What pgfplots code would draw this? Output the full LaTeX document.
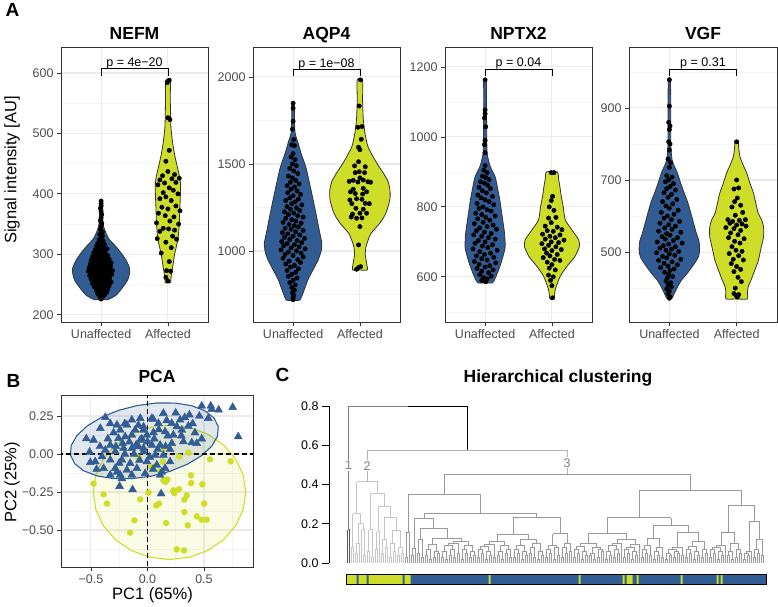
\documentclass[border=0pt]{standalone}
\usepackage{fontspec}
\setmainfont{Liberation Sans}
\usepackage{pgfplots}
\usepackage{pgfplotstable}
\pgfplotsset{compat=1.18}

\definecolor{ublue}{RGB}{50,92,148}
\definecolor{ayel}{RGB}{206,222,40}
\definecolor{gridc}{HTML}{EBEBEB}
\definecolor{gridm}{HTML}{F4F4F4}
\definecolor{frame}{HTML}{333333}
\definecolor{ticklab}{HTML}{4D4D4D}
\definecolor{cl1}{HTML}{5A5A5A}
\definecolor{cl2}{HTML}{C6C6C6}
\definecolor{cl3}{HTML}{9A9A9A}

\tikzset{ptext/.style={font=\fontsize{12.5}{14}\selectfont, anchor=base}}
\pgfplotsset{
  gg/.style={
    scale only axis,
    axis line style={frame, line width=0.8pt},
    tick style={frame, line width=0.8pt},
    tick align=outside, tick pos=left,
    major tick length=4pt, minor tick length=0pt,
    tick label style={font=\fontsize{12.5}{14}\selectfont, text=ticklab},
    /pgf/number format/assume math mode=true,
    /pgf/number format/1000 sep={},
    major grid style={gridc, line width=1.1pt},
    minor grid style={gridm, line width=0.6pt},
    xmajorgrids, ymajorgrids, yminorgrids,
    title style={font=\fontsize{17.5}{20}\bfseries\selectfont, anchor=base, at={(0.5,1)}, inner sep=0pt},
  },
  violin/.style={gg, width=147pt, height=275pt, xmin=0.4, xmax=2.6,
    xtick={1,2}, xticklabels={Unaffected,Affected}, title style={yshift=1.7pt}},
  pts/.style={only marks, mark=*, mark size=2.2pt, black},
  vio/.style={fill=#1, draw=frame, line width=0.8pt, smooth, tension=0.4},
}

% dendrogram merges: left child (xl,hl), right child (xr,hr), merge height h
\pgfplotstableread{
xl hl xr hr h
0 0 1 0 0.17
}\dA
\pgfplotstableread{
xl hl xr hr h
2 0 3 0 0.08
4 0 5 0 0.05
4.5 0.05 6 0 0.10
8 0 9 0 0.04
7 0 8.5 0.04 0.17
5.25 0.10 7.75 0.17 0.20
2.5 0.08 6.5 0.20 0.251
10 0 11 0 0.06
12 0 13 0 0.03
10.5 0.06 12.5 0.03 0.17
14 0 15 0 0.07
14.5 0.07 16 0 0.16
17 0 18 0 0.05
19 0 20 0 0.08
17.5 0.05 19.5 0.08 0.12
21 0 22 0 0.03
23 0 24 0 0.06
21.5 0.03 23.5 0.06 0.10
25 0 26 0 0.04
27 0 28 0 0.05
25.5 0.04 27.5 0.05 0.08
22.5 0.10 26.5 0.08 0.168
18.5 0.12 24.5 0.168 0.233
15.25 0.16 21.5 0.233 0.287
11.5 0.17 18.375 0.287 0.357
4.5 0.251 14.9375 0.357 0.414
}\dB
\pgfplotstableread{
xl hl xr hr h
29 0 30 0 0.03
29.5 0.03 31 0 0.156
32 0 33 0 0.04
32.5 0.04 34 0 0.075
35 0 36 0 0.05
37 0 38 0 0.03
35.5 0.05 37.5 0.03 0.12
39 0 40 0 0.04
41 0 42 0 0.02
39.5 0.04 41.5 0.02 0.07
43 0 44 0 0.03
45 0 46 0 0.05
43.5 0.03 45.5 0.05 0.06
40.5 0.07 44.5 0.06 0.095
47 0 48 0 0.03
49 0 50 0 0.02
47.5 0.03 49.5 0.02 0.06
51 0 52 0 0.04
53 0 54 0 0.03
51.5 0.04 53.5 0.03 0.07
48.5 0.06 52.5 0.07 0.09
55 0 56 0 0.05
50.5 0.09 55.5 0.05 0.10
57 0 58 0 0.02
59 0 60 0 0.05
57.5 0.02 59.5 0.05 0.07
61 0 62 0 0.03
63 0 64 0 0.04
61.5 0.03 63.5 0.04 0.06
58.5 0.07 62.5 0.06 0.09
53 0.10 60.5 0.09 0.11
42.5 0.095 56.75 0.11 0.125
36.5 0.12 49.625 0.125 0.178
33.25 0.075 43.0625 0.178 0.228
65 0 66 0 0.03
67 0 68 0 0.05
65.5 0.03 67.5 0.05 0.07
69 0 70 0 0.02
71 0 72 0 0.04
69.5 0.02 71.5 0.04 0.06
66.5 0.07 70.5 0.06 0.085
73 0 74 0 0.03
68.5 0.085 73.5 0.03 0.095
75 0 76 0 0.04
77 0 78 0 0.02
75.5 0.04 77.5 0.02 0.06
79 0 80 0 0.05
81 0 82 0 0.03
79.5 0.05 81.5 0.03 0.07
76.5 0.06 80.5 0.07 0.09
71 0.095 78.5 0.09 0.11
83 0 84 0 0.03
85 0 86 0 0.05
83.5 0.03 85.5 0.05 0.07
87 0 88 0 0.02
89 0 90 0 0.04
87.5 0.02 89.5 0.04 0.06
84.5 0.07 88.5 0.06 0.09
91 0 92 0 0.05
93 0 94 0 0.03
91.5 0.05 93.5 0.03 0.08
95 0 96 0 0.02
97 0 98 0 0.04
95.5 0.02 97.5 0.04 0.06
92.5 0.08 96.5 0.06 0.10
86.5 0.09 94.5 0.10 0.12
74.75 0.11 90.5 0.12 0.148
99 0 100 0 0.03
101 0 102 0 0.05
99.5 0.03 101.5 0.05 0.07
103 0 104 0 0.02
105 0 106 0 0.04
103.5 0.02 105.5 0.04 0.08
100.5 0.07 104.5 0.08 0.09
107 0 108 0 0.03
109 0 110 0 0.05
107.5 0.03 109.5 0.05 0.08
111 0 112 0 0.06
108.5 0.08 111.5 0.06 0.10
102.5 0.09 110 0.10 0.15
82.625 0.148 106.25 0.15 0.233
38.15625 0.228 94.4375 0.233 0.253
30.25 0.156 66.296875 0.253 0.350
113 0 114 0 0.03
115 0 116 0 0.05
113.5 0.03 115.5 0.05 0.07
117 0 118 0 0.02
119 0 120 0 0.04
117.5 0.02 119.5 0.04 0.06
114.5 0.07 118.5 0.06 0.085
121 0 122 0 0.04
123 0 124 0 0.02
121.5 0.04 123.5 0.02 0.05
125 0 126 0 0.03
127 0 128 0 0.06
125.5 0.03 127.5 0.06 0.07
122.5 0.05 126.5 0.07 0.08
116.5 0.085 124.5 0.08 0.10
129 0 130 0 0.02
131 0 132 0 0.04
129.5 0.02 131.5 0.04 0.06
133 0 134 0 0.03
135 0 136 0 0.05
133.5 0.03 135.5 0.05 0.07
130.5 0.06 134.5 0.07 0.09
132.5 0.09 137 0 0.10
138 0 139 0 0.03
140 0 141 0 0.05
138.5 0.03 140.5 0.05 0.07
142 0 143 0 0.02
144 0 145 0 0.04
142.5 0.02 144.5 0.04 0.06
139.5 0.07 143.5 0.06 0.08
141.5 0.08 146 0 0.095
134.75 0.10 143.75 0.095 0.12
120.5 0.10 139.25 0.12 0.151
147 0 148 0 0.03
149 0 150 0 0.05
147.5 0.03 149.5 0.05 0.07
151 0 152 0 0.04
148.5 0.07 151.5 0.04 0.09
153 0 154 0 0.02
155 0 156 0 0.04
153.5 0.02 155.5 0.04 0.06
157 0 158 0 0.03
154.5 0.06 157.5 0.03 0.08
150 0.09 156 0.08 0.125
159 0 160 0 0.02
161 0 162 0 0.04
159.5 0.02 161.5 0.04 0.05
163 0 164 0 0.03
165 0 166 0 0.05
163.5 0.03 165.5 0.05 0.06
160.5 0.05 164.5 0.06 0.07
167 0 168 0 0.04
162.5 0.07 167.5 0.04 0.08
169 0 170 0 0.03
171 0 172 0 0.05
169.5 0.03 171.5 0.05 0.07
173 0 174 0 0.02
175 0 176 0 0.04
173.5 0.02 175.5 0.04 0.06
170.5 0.07 174.5 0.06 0.085
177 0 178 0 0.03
179 0 180 0 0.05
177.5 0.03 179.5 0.05 0.07
172.5 0.085 178.5 0.07 0.11
165 0.08 175.5 0.11 0.156
153 0.125 170.25 0.156 0.192
129.875 0.151 161.625 0.192 0.231
181 0 182 0 0.03
183 0 184 0 0.05
181.5 0.03 183.5 0.05 0.07
185 0 186 0 0.02
187 0 188 0 0.04
185.5 0.02 187.5 0.04 0.06
182.5 0.07 186.5 0.06 0.08
184.5 0.08 189 0 0.09
190 0 191 0 0.04
192 0 193 0 0.02
190.5 0.04 192.5 0.02 0.06
194 0 195 0 0.03
196 0 197 0 0.05
194.5 0.03 196.5 0.05 0.07
191.5 0.06 195.5 0.07 0.10
186.75 0.09 193.5 0.10 0.156
198 0 199 0 0.02
200 0 201 0 0.04
198.5 0.02 200.5 0.04 0.05
199.5 0.05 202 0 0.06
203 0 204 0 0.03
205 0 206 0 0.05
203.5 0.03 205.5 0.05 0.07
207 0 208 0 0.04
204.5 0.07 207.5 0.04 0.12
200.75 0.06 206 0.12 0.21
190.125 0.156 203.375 0.21 0.294
145.75 0.231 196.75 0.294 0.370
48.2734375 0.350 171.25 0.370 0.452
}\dC

\newcommand{\dendro}[2]{%
  \addplot[#2, line width=0.7pt, quiver={u=0, v=\thisrow{h}-\thisrow{hl}}] table[x=xl, y=hl] {#1};
  \addplot[#2, line width=0.7pt, quiver={u=0, v=\thisrow{h}-\thisrow{hr}}] table[x=xr, y=hr] {#1};
  \addplot[#2, line width=0.7pt, quiver={u=\thisrow{xr}-\thisrow{xl}, v=0}] table[x=xl, y=h] {#1};
}

\begin{document}
\begin{tikzpicture}
\useasboundingbox (0,0) rectangle (778pt,606pt);

% ---------------- NEFM
\begin{axis}[violin, at={(61pt,284pt)}, ymin=188, ymax=643,
  ytick={200,300,400,500,600}, minor ytick={250,350,450,550}, title={NEFM}]
\addplot[vio=ublue] coordinates {(1,225)(1.10,225)(1.22,232)(1.30,242)(1.40,258)(1.43,275)(1.37,291)(1.28,305)(1.22,313)(1.12,325)(1.07,336)(1.04,345)(1.025,360)(1.02,389)(0.98,389)(0.975,360)(0.96,345)(0.93,336)(0.88,325)(0.78,313)(0.72,305)(0.63,291)(0.57,275)(0.60,258)(0.70,242)(0.78,232)(0.90,225)(1,225)};
\addplot[vio=ayel] coordinates {(2,253)(2.04,253)(2.05,265)(2.08,285)(2.10,300)(2.15,325)(2.17,350)(2.18,380)(2.19,410)(2.18,425)(2.14,445)(2.10,465)(2.07,485)(2.045,510)(2.04,530)(2.035,560)(2.035,588)(1.965,588)(1.965,560)(1.96,530)(1.955,510)(1.93,485)(1.90,465)(1.86,445)(1.82,425)(1.81,410)(1.82,380)(1.83,350)(1.85,325)(1.90,300)(1.92,285)(1.95,265)(1.96,253)(2,253)};
\addplot[pts] coordinates {
(1.00,388)(1.00,384)(1.00,380)(0.99,376)(1.00,371)(1.01,366)(1.00,361)(0.99,356)(1.01,351)(1.00,346)(0.99,341)(1.02,337)(0.98,333)(1.02,330)(1.00,327)(0.97,324)(1.03,322)
(0.95,318)(1.00,318)(1.05,316)(0.93,313)(0.98,312)(1.04,311)(1.09,309)(0.91,307)(0.96,306)(1.01,305)(1.06,304)(0.89,302)(0.94,301)(0.99,300)(1.04,299)(1.10,298)(0.87,296)(0.92,296)(0.97,295)(1.02,294)(1.07,293)(1.12,292)(0.85,290)(0.90,290)(0.95,289)(1.00,288)(1.05,288)(1.10,287)(1.15,286)(0.84,284)(0.89,284)(0.94,283)(0.99,282)(1.04,282)(1.09,281)(1.14,280)(0.82,278)(0.87,278)(0.92,277)(0.97,276)(1.02,276)(1.07,275)(1.12,274)(1.17,273)(0.81,272)(0.86,271)(0.91,271)(0.96,270)(1.01,269)(1.06,269)(1.11,268)(1.16,267)(0.83,265)(0.88,265)(0.93,264)(0.98,263)(1.03,263)(1.08,262)(1.13,261)(0.85,259)(0.90,258)(0.95,258)(1.00,257)(1.05,256)(1.10,255)(1.15,254)(0.87,252)(0.92,251)(0.97,250)(1.02,250)(1.07,249)(1.12,248)(0.90,246)(0.95,245)(1.00,244)(1.05,243)(1.10,242)(0.93,240)(0.98,239)(1.03,238)(1.08,237)(0.95,235)(1.00,234)(1.05,233)(0.98,230)(1.02,229)(1.00,226)
(0.90,280)(1.10,270)(0.93,292)(1.07,284)(0.96,261)(1.04,266)(0.88,273)(1.12,279)(0.98,248)(1.02,253)(0.94,270)(1.06,278)(1.00,300)(1.00,310)(1.00,274)(0.92,255)(1.08,255)(0.97,286)(1.03,290)(0.95,302)(1.05,306)
};
\addplot[pts] coordinates {
(2.02,588)(1.99,584)(2.00,526)(2.03,523)(2.02,472)(1.97,454)(2.10,432)(1.92,430)(2.00,437)(2.06,425)(2.17,426)(1.88,423)(1.95,418)(2.12,419)(2.02,410)(1.85,415)(2.08,406)(1.93,402)(2.15,400)(1.97,395)(1.88,392)(2.05,389)(2.12,380)(1.91,378)(2.00,375)(2.18,372)(1.86,368)(1.96,364)(2.09,362)(2.03,355)(1.83,352)(2.16,350)(1.93,343)(2.01,342)(2.10,340)(1.88,338)(2.07,330)(1.84,326)(2.13,325)(1.97,320)(2.05,311)(1.90,302)(2.02,288)(1.98,273)(2.04,272)(1.97,262)(2.00,256)
};
\addplot[black, line width=0.8pt] coordinates {(1,595)(1,608)(2,608)(2,595)};
\node[ptext] at (axis cs:1.5,611) {p = 4e−20};
\end{axis}

% ---------------- AQP4
\begin{axis}[violin, at={(253pt,284pt)}, ymin=592, ymax=2172,
  ytick={1000,1500,2000}, minor ytick={750,1250,1750}, title={AQP4}]
\addplot[vio=ublue] coordinates {(1,718)(1.10,718)(1.15,760)(1.22,833)(1.31,900)(1.375,948)(1.42,1000)(1.43,1046)(1.40,1103)(1.35,1200)(1.30,1293)(1.24,1400)(1.19,1483)(1.12,1560)(1.075,1620)(1.03,1678)(1.02,1760)(1.02,1849)(0.98,1849)(0.98,1760)(0.97,1678)(0.925,1620)(0.88,1560)(0.81,1483)(0.76,1400)(0.70,1293)(0.65,1200)(0.60,1103)(0.57,1046)(0.58,1000)(0.625,948)(0.69,900)(0.78,833)(0.85,760)(0.90,718)(1,718)};
\addplot[vio=ayel] coordinates {(2,891)(2.11,891)(2.10,931)(2.08,980)(2.09,1023)(2.13,1070)(2.17,1103)(2.30,1161)(2.38,1210)(2.42,1253)(2.45,1300)(2.45,1350)(2.42,1400)(2.35,1448)(2.26,1500)(2.20,1540)(2.12,1600)(2.075,1678)(2.05,1760)(2.04,1868)(2.04,1983)(1.96,1983)(1.96,1868)(1.95,1760)(1.925,1678)(1.88,1600)(1.80,1540)(1.74,1500)(1.65,1448)(1.58,1400)(1.55,1350)(1.55,1300)(1.58,1253)(1.62,1210)(1.70,1161)(1.83,1103)(1.87,1070)(1.91,1023)(1.92,980)(1.90,931)(1.89,891)(2,891)};
\addplot[pts] coordinates {
(1.00,1849)(1.00,1820)(1.00,1745)(0.99,1700)(1.01,1640)(0.98,1610)(1.02,1605)(1.00,1560)(0.97,1540)(1.03,1525)(0.99,1500)(1.05,1490)(0.95,1475)(1.01,1460)(1.07,1445)(0.93,1430)(0.99,1420)(1.04,1405)(0.96,1395)(1.09,1385)(0.91,1375)(1.02,1368)(0.97,1355)(1.06,1345)(0.92,1335)(1.11,1325)(1.00,1318)(0.95,1305)(1.08,1298)(0.89,1290)(1.03,1282)(0.98,1272)(1.13,1265)(0.91,1255)(1.05,1248)(0.96,1240)(1.10,1232)(0.87,1225)(1.01,1218)(0.93,1210)(1.07,1202)(1.15,1195)(0.89,1188)(0.98,1180)(1.04,1172)(0.85,1165)(1.12,1160)(0.94,1152)(1.02,1145)(1.08,1138)(0.88,1130)(0.97,1125)(1.15,1118)(1.04,1110)(0.84,1105)(0.92,1098)(1.10,1092)(1.00,1085)(0.87,1078)(1.17,1072)(0.95,1066)(1.06,1060)(0.83,1054)(1.13,1048)(0.91,1042)(1.02,1036)(0.86,1030)(1.09,1024)(0.97,1018)(1.18,1012)(0.82,1006)(1.05,1000)(0.93,994)(1.12,988)(0.88,980)(1.00,974)(1.15,966)(0.85,958)(1.07,950)(0.94,942)(1.11,934)(0.89,925)(1.02,917)(0.96,908)(1.08,898)(0.91,888)(1.04,878)(0.98,866)(0.93,855)(1.06,845)(1.00,832)(0.95,818)(1.03,805)(0.98,790)(1.02,775)(0.99,760)(1.01,745)(1.00,730)(1.00,720)
};
\addplot[pts] coordinates {
(2.01,1983)(1.99,1833)(1.97,1711)(2.03,1715)(2.02,1642)(1.98,1596)(2.00,1582)(1.98,1513)(1.92,1489)(2.08,1484)(1.99,1456)(1.84,1400)(1.90,1406)(1.97,1396)(2.05,1408)(2.12,1398)(2.16,1395)(1.90,1355)(2.05,1360)(1.85,1293)(1.95,1300)(2.03,1297)(2.08,1274)(1.88,1272)(2.14,1272)(1.94,1245)(2.05,1240)(2.00,1217)(1.89,1212)(2.10,1217)(1.95,1188)(2.03,1190)(1.87,1195)(2.00,1140)(1.98,1035)(1.98,905)(2.01,910)(1.95,895)(2.04,1327)(1.93,1330)(2.10,1340)(1.86,1340)(2.07,1450)(2.00,1420)(1.93,1450)
};
\addplot[black, line width=0.8pt] coordinates {(1,2006)(1,2046)(2,2046)(2,2006)};
\node[ptext] at (axis cs:1.5,2057) {p = 1e−08};
\end{axis}

% ---------------- NPTX2
\begin{axis}[violin, at={(445pt,284pt)}, ymin=471, ymax=1257,
  ytick={600,800,1000,1200}, minor ytick={500,700,900,1100}, title={NPTX2}]
\addplot[vio=ublue] coordinates {(1,583)(1.11,583)(1.16,600)(1.22,629)(1.27,660)(1.30,686)(1.29,726)(1.25,780)(1.22,820)(1.18,860)(1.15,886)(1.09,910)(1.06,926)(1.03,954)(1.025,1000)(1.02,1100)(1.02,1163)(0.98,1163)(0.98,1100)(0.975,1000)(0.97,954)(0.94,926)(0.91,910)(0.85,886)(0.82,860)(0.78,820)(0.75,780)(0.71,726)(0.70,686)(0.73,660)(0.78,629)(0.84,600)(0.89,583)(1,583)};
\addplot[vio=ayel] coordinates {(2,537)(2.03,537)(2.05,563)(2.12,600)(2.22,629)(2.34,657)(2.41,686)(2.40,706)(2.30,734)(2.20,763)(2.17,800)(2.14,830)(2.12,857)(2.10,880)(2.08,900)(1.92,900)(1.90,880)(1.88,857)(1.86,830)(1.83,800)(1.80,763)(1.70,734)(1.60,706)(1.59,686)(1.66,657)(1.78,629)(1.88,600)(1.95,563)(1.97,537)(2,537)};
\addplot[pts] coordinates {
(1.00,1163)(1.00,1077)(1.00,1066)(0.99,1054)(1.01,1029)(1.00,990)(0.99,978)(1.00,955)(1.00,918)(0.98,905)(1.03,898)(0.96,888)(1.01,884)(1.06,878)(0.93,872)(0.99,868)(1.04,862)(0.91,856)(1.08,852)(0.96,846)(1.02,840)(0.89,834)(1.11,830)(0.94,826)(1.00,820)(1.06,815)(0.88,810)(1.13,806)(0.97,800)(0.91,796)(1.03,792)(1.09,788)(0.86,782)(0.95,778)(1.15,774)(1.01,770)(0.89,766)(1.07,762)(0.97,756)(0.84,752)(1.12,748)(1.03,744)(0.92,740)(1.17,736)(0.87,732)(0.99,728)(1.09,724)(0.83,720)(0.95,716)(1.05,712)(1.15,708)(0.90,704)(1.00,700)(0.85,696)(1.11,692)(0.96,688)(1.04,684)(0.82,680)(1.18,676)(0.92,672)(1.08,668)(0.99,664)(0.87,660)(1.13,656)(0.95,652)(1.03,648)(0.84,644)(1.16,640)(0.91,636)(1.07,632)(1.00,628)(0.88,624)(1.12,620)(0.95,616)(1.05,612)(0.92,606)(1.09,602)(0.98,598)(1.03,594)(0.95,590)(1.01,586)
};
\addplot[pts] coordinates {
(1.99,898)(2.03,898)(2.01,830)(1.99,818)(1.96,800)(2.03,790)(1.95,768)(2.06,770)(1.99,755)(1.90,745)(2.08,742)(2.15,735)(1.93,732)(2.02,730)(1.86,722)(2.12,720)(1.97,716)(2.05,712)(1.90,708)(2.18,705)(1.99,700)(2.10,698)(1.85,695)(1.95,690)(2.06,686)(1.89,680)(2.14,678)(2.00,675)(1.92,668)(2.08,664)(1.97,660)(1.87,655)(2.04,650)(2.12,647)(1.93,642)(2.00,635)(1.96,625)(2.05,620)(1.95,605)(2.02,600)(1.98,590)(2.00,575)(2.01,540)
};
\addplot[black, line width=0.8pt] coordinates {(1,1174)(1,1194)(2,1194)(2,1174)};
\node[ptext] at (axis cs:1.5,1200) {p = 0.04};
\end{axis}

% ---------------- VGF
\begin{axis}[violin, at={(629pt,284pt)}, width=148pt, ymin=306, ymax=1069,
  ytick={500,700,900}, minor ytick={400,600,800,1000}, title={VGF}]
\addplot[vio=ublue] coordinates {(1,372)(1.04,372)(1.075,386)(1.12,403)(1.18,422)(1.27,442)(1.36,465)(1.43,486)(1.45,505)(1.44,530)(1.40,553)(1.36,580)(1.32,608)(1.27,640)(1.22,664)(1.17,690)(1.12,719)(1.07,740)(1.04,756)(1.02,800)(1.02,900)(1.015,978)(0.985,978)(0.98,900)(0.98,800)(0.96,756)(0.93,740)(0.88,719)(0.83,690)(0.78,664)(0.73,640)(0.68,608)(0.64,580)(0.60,553)(0.56,530)(0.55,505)(0.57,486)(0.64,465)(0.73,442)(0.82,422)(0.88,403)(0.925,386)(0.96,372)(1,372)};
\addplot[vio=ayel] coordinates {(2,370)(2.16,370)(2.16,385)(2.17,403)(2.22,425)(2.27,450)(2.32,475)(2.35,500)(2.38,525)(2.40,542)(2.40,570)(2.37,590)(2.32,608)(2.28,640)(2.25,664)(2.20,690)(2.15,719)(2.10,740)(2.05,764)(2.03,790)(2.025,808)(1.975,808)(1.97,790)(1.95,764)(1.90,740)(1.85,719)(1.80,690)(1.75,664)(1.72,640)(1.68,608)(1.63,590)(1.60,570)(1.60,542)(1.62,525)(1.65,500)(1.68,475)(1.73,450)(1.78,425)(1.83,403)(1.84,385)(1.84,370)(2,370)};
\addplot[pts] coordinates {
(1.00,978)(1.00,905)(0.99,860)(1.01,850)(1.00,840)(0.99,806)(1.01,800)(1.00,783)(0.98,758)(1.02,748)(1.00,735)(0.96,712)(1.04,708)(0.99,700)(0.94,695)(1.06,690)(1.01,682)(0.96,676)(1.09,672)(0.92,665)(1.03,660)(0.98,652)(1.11,646)(0.90,640)(1.05,634)(0.95,628)(1.00,622)(1.13,616)(0.88,610)(1.07,605)(0.97,600)(0.92,594)(1.03,590)(1.15,585)(0.86,580)(0.99,576)(1.09,572)(0.93,567)(1.04,563)(0.84,558)(1.17,555)(0.96,551)(1.01,547)(0.89,543)(1.12,540)(0.94,536)(1.06,532)(0.82,528)(1.19,525)(0.99,522)(0.91,518)(1.09,515)(0.86,511)(1.03,508)(0.95,505)(1.14,502)(0.81,498)(1.00,495)(1.08,491)(0.90,488)(0.96,484)(1.17,480)(0.84,477)(1.04,473)(0.92,469)(1.12,465)(0.98,461)(0.87,457)(1.07,453)(1.01,449)(0.93,444)(0.99,438)(1.05,432)(0.97,428)(0.95,420)(1.02,415)(0.98,410)(1.03,404)(0.96,398)(1.00,392)(0.98,385)(1.01,376)(1.00,372)
};
\addplot[pts] coordinates {
(2.00,806)(2.00,700)(1.96,675)(2.03,678)(2.01,650)(1.97,640)(2.06,630)(1.93,625)(2.09,610)(1.98,602)(1.87,590)(1.94,585)(2.04,588)(2.13,590)(1.90,580)(2.00,575)(2.08,578)(1.84,568)(2.14,572)(1.96,565)(2.06,560)(1.91,553)(2.02,548)(1.88,540)(2.11,537)(1.97,530)(2.05,525)(1.93,515)(1.99,505)(2.08,502)(1.89,496)(2.03,490)(1.95,480)(2.10,478)(1.92,468)(2.00,460)(2.06,452)(1.96,446)(2.02,430)(2.07,418)(1.98,400)(1.96,385)(1.99,380)(2.03,382)(2.01,375)
};
\addplot[black, line width=0.8pt] coordinates {(1,989)(1,1008)(2,1008)(2,989)};
\node[ptext] at (axis cs:1.5,1014) {p = 0.31};
\end{axis}

% ---------------- PCA
\begin{axis}[gg, at={(61pt,39pt)}, width=192pt, height=172pt,
  xmin=-0.765, xmax=0.934, ymin=-0.743, ymax=0.388,
  xtick={-0.5,0,0.5}, xticklabels={−0.5,0.0,0.5},
  ytick={-0.5,-0.25,0,0.25}, yticklabels={−0.50,−0.25,0.00,0.25},
  minor xtick={-0.75,-0.25,0.25,0.75}, minor ytick={-0.625,-0.375,-0.125,0.125,0.375},
  xminorgrids, title={PCA}, title style={yshift=6.7pt}]
\addplot[only marks, mark=*, mark size=3pt, ayel] coordinates {
(-0.477,-0.195)(-0.388,-0.265)(-0.358,-0.326)(-0.153,-0.517)(-0.115,-0.436)(-0.064,-0.298)(0.009,-0.254)(0.077,-0.338)(0.103,-0.326)(0.165,-0.454)(0.159,-0.184)(0.177,-0.168)(0.229,-0.239)(0.238,-0.257)(0.280,-0.232)(0.327,-0.300)(0.348,-0.272)(0.327,-0.382)(0.357,-0.469)(0.259,-0.627)(0.324,-0.634)(0.386,-0.140)(0.386,-0.191)(0.485,-0.199)(0.503,-0.326)(0.436,-0.410)(0.480,-0.432)(0.524,-0.432)(0.141,0.038)(0.282,-0.017)(0.362,0.009)(0.553,-0.035)(0.736,-0.048)(0.136,-0.050)(0.033,-0.083)(0.112,-0.112)(-0.079,-0.022)(0.141,-0.173)
};
\addplot[only marks, mark=triangle*, mark size=4.6pt, ublue] coordinates {
(-0.373,0.241)(-0.417,0.169)(-0.270,0.191)(-0.241,0.158)(-0.182,0.191)(-0.138,0.224)(-0.064,0.235)(-0.109,0.158)(-0.035,0.158)(-0.256,0.103)(-0.197,0.114)(-0.138,0.125)(-0.064,0.092)(-0.477,0.092)(-0.541,0.101)(-0.512,0.013)(-0.506,-0.055)(-0.329,0.059)(-0.373,0.026)(-0.402,-0.017)(-0.285,0.016)(-0.212,0.038)(-0.138,0.038)(-0.079,0.049)(-0.035,0.016)(-0.462,-0.050)(-0.329,-0.039)(-0.226,-0.039)(-0.153,-0.061)(-0.388,-0.094)(-0.285,-0.094)(-0.182,-0.105)(-0.094,-0.094)(-0.329,-0.138)(-0.241,-0.138)(-0.138,-0.138)(-0.020,-0.127)(0.480,0.316)(0.560,0.316)(0.568,0.294)(0.754,0.307)(0.803,0.114)(0.371,0.257)(0.289,0.224)(0.459,0.250)(0.538,0.235)(0.141,0.268)(0.039,0.235)(0.097,0.202)(0.215,0.202)(0.304,0.158)(0.362,0.184)(-0.035,0.180)(-0.005,0.125)(0.053,0.141)(0.156,0.147)(0.229,0.125)(0.215,0.070)(0.318,0.082)(0.392,0.075)(0.436,0.070)(0.112,0.059)(0.039,0.059)(-0.035,0.038)(0.068,-0.007)(0.141,-0.007)(-0.005,-0.050)(0.083,-0.072)(0.156,-0.094)(0.112,-0.138)(0.200,-0.050)(-0.270,-0.118)(-0.226,-0.162)(-0.247,-0.212)(-0.132,-0.234)(0.121,-0.261)(0.127,-0.118)
(-0.30,0.14)(-0.22,0.07)(-0.16,0.08)(-0.10,0.06)(-0.05,0.10)(0.00,0.08)(0.06,0.10)(0.10,0.16)(0.18,0.12)(0.26,0.18)(-0.42,0.05)(-0.35,0.10)(-0.28,0.05)(-0.20,0.00)(-0.12,0.00)(-0.07,-0.04)(0.02,-0.02)(0.09,0.03)(0.20,0.03)(0.30,0.12)(0.42,0.14)(0.48,0.10)(-0.45,-0.10)(-0.25,-0.06)(0.05,-0.10)(0.25,0.27)(0.33,0.24)(0.05,0.23)(-0.20,0.20)(-0.08,0.19)(0.17,0.22)(0.40,0.20)(-0.33,0.20)(0.63,0.29)(0.16,0.05)
};
\addplot[fill=ayel, fill opacity=0.12, draw=ayel, line width=1.1pt] coordinates {
(0.870,-0.252)(0.847,-0.1376)(0.7796,-0.031)(0.6723,0.0605)(0.5325,0.1308)(0.3697,0.1749)(0.195,0.190)(0.0203,0.1749)(-0.1425,0.1308)(-0.2823,0.0605)(-0.3896,-0.031)(-0.457,-0.1376)(-0.480,-0.252)(-0.457,-0.3664)(-0.3896,-0.473)(-0.2823,-0.5645)(-0.1425,-0.6348)(0.0203,-0.6789)(0.195,-0.694)(0.3697,-0.6789)(0.5325,-0.6348)(0.6723,-0.5645)(0.7796,-0.473)(0.847,-0.3664)(0.870,-0.252)
};
\addplot[fill=ublue, fill opacity=0.15, draw=ublue, line width=1.1pt] coordinates {
(0.6266,0.1802)(0.6198,0.1168)(0.5689,0.0514)(0.4773,-0.0117)(0.3514,-0.0679)(0.1997,-0.1137)(0.0324,-0.1458)(-0.1389,-0.1621)(-0.3026,-0.1613)(-0.4475,-0.1437)(-0.5639,-0.1104)(-0.6436,-0.0636)(-0.6814,-0.0066)(-0.6746,0.0568)(-0.6237,0.1222)(-0.5321,0.1853)(-0.4062,0.2415)(-0.2545,0.2873)(-0.0872,0.3194)(0.0841,0.3357)(0.2478,0.3349)(0.3927,0.3173)(0.5091,0.284)(0.5888,0.2372)(0.6266,0.1802)
};
\addplot[black, line width=1.2pt, dash pattern=on 5pt off 3pt] coordinates {(-1,0)(1,0)};
\addplot[black, line width=1.2pt, dash pattern=on 5pt off 3pt] coordinates {(0,-1)(0,1)};
\end{axis}

% ---------------- dendrogram
\begin{axis}[scale only axis, at={(329pt,43pt)}, width=437pt, height=157pt,
  xmin=-9.333, xmax=209.17, ymin=0, ymax=0.8, clip=false,
  axis x line=none, axis y line=left,
  every outer y axis line/.append style={-}, y axis line style={-, black, line width=0.8pt},
  ytick={0,0.2,0.4,0.6,0.8}, yticklabels={0.0,0.2,0.4,0.6,0.8},
  tick align=outside, major tick length=7pt, tick style={black, line width=0.8pt},
  yticklabel style={font=\fontsize{12.5}{14}\selectfont, text=black}]
\dendro{\dA}{cl1}
\dendro{\dB}{cl2}
\dendro{\dC}{cl3}
\addplot[black!50, line width=0.7pt] coordinates {(0.5,0.17)(0.5,0.8)(30.12,0.8)};
\addplot[black, line width=0.8pt] coordinates {(30.12,0.8)(59.74,0.8)(59.74,0.574)};
\addplot[black!30, line width=0.7pt] coordinates {(9.71875,0.414)(9.71875,0.574)(109.76,0.574)(109.76,0.452)};
\node[font=\fontsize{12.5}{14}\selectfont, text=black!50, fill=white, inner sep=1pt] at (axis cs:0.5,0.496) {1};
\node[font=\fontsize{12.5}{14}\selectfont, text=black!50, fill=white, inner sep=1pt] at (axis cs:9.72,0.496) {2};
\node[font=\fontsize{12.5}{14}\selectfont, text=black!50, fill=white, inner sep=1pt] at (axis cs:109.76,0.511) {3};
\end{axis}

% ---------------- colour bar
\begin{axis}[scale only axis, at={(346pt,22pt)}, width=420pt, height=10pt,
  xmin=-0.833, xmax=209.17, ymin=0, ymax=1, xtick=\empty, ytick=\empty,
  axis line style={black, line width=1pt}, axis on top]
\addplot[fill=ublue, draw=none] coordinates {(-0.833,1)(209.17,1)} \closedcycle;
\addplot[const plot, fill=ayel, draw=none] coordinates {
(-0.833,1)(4.5,0)(5.5,1)(9.5,0)(10.5,1)(27.5,0)(28.5,1)(31.5,0)(70.5,1)(71.5,0)(115.5,1)(116.5,0)(137.5,1)(138.5,0)(139.5,1)(142.5,0)(144.5,1)(145.5,0)(166.5,1)(167.5,0)(184.5,1)(185.5,0)(186.5,1)(187.5,0)} \closedcycle;
\end{axis}

% ---------------- labels
\node[anchor=base west, font=\fontsize{19}{20}\bfseries\selectfont] at (2pt,589pt) {A};
\node[anchor=base west, font=\fontsize{19}{20}\bfseries\selectfont] at (3pt,219pt) {B};
\node[anchor=base west, font=\fontsize{19}{20}\bfseries\selectfont] at (272pt,225pt) {C};
\node[rotate=90, font=\fontsize{16.5}{18}\selectfont] at (12pt,436pt) {Signal intensity [AU]};
\node[rotate=90, font=\fontsize{16.5}{18}\selectfont] at (12pt,123.5pt) {PC2 (25\%)};
\node[font=\fontsize{16.5}{18}\selectfont] at (152.5pt,11pt) {PC1 (65\%)};
\node[anchor=base, font=\fontsize{17.5}{20}\bfseries\selectfont] at (558pt,223.7pt) {Hierarchical clustering};
\end{tikzpicture}
\end{document}
